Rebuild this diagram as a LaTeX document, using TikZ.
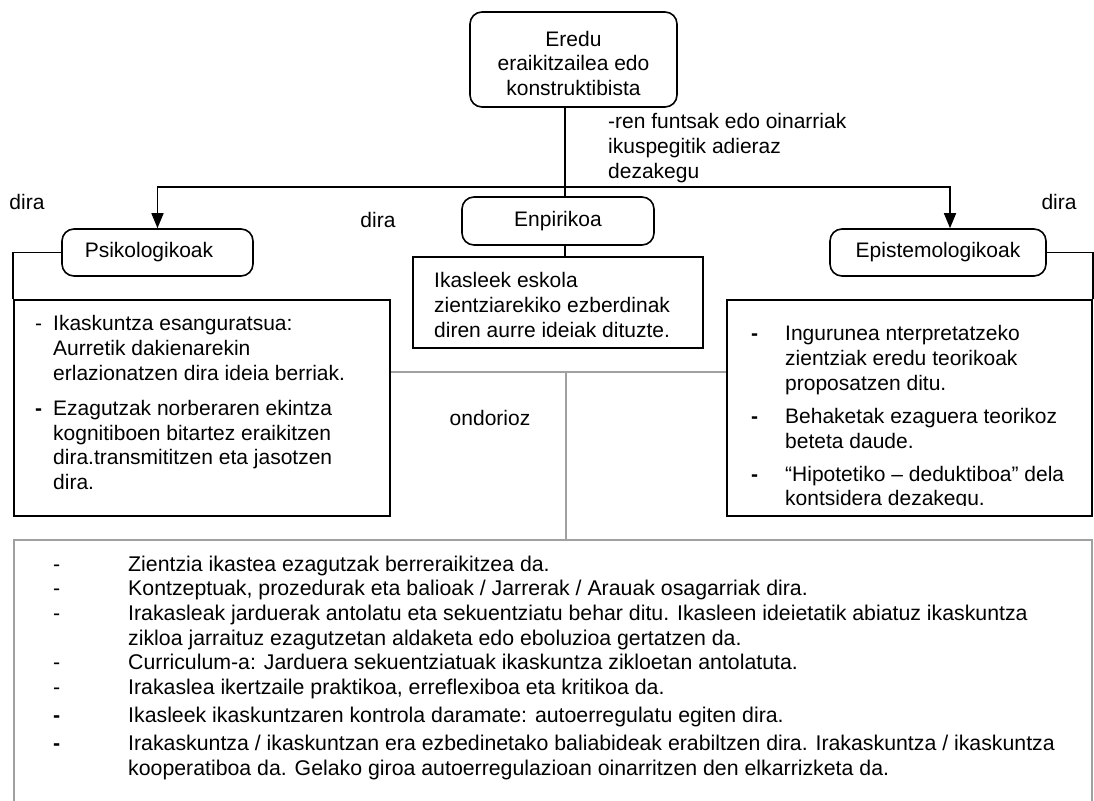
\documentclass[tikz,border=0pt]{standalone}
\usepackage{fontspec}
\setmainfont{Liberation Sans}
\usetikzlibrary{arrows.meta}
\definecolor{lgray}{RGB}{160,160,160}
\newcommand{\mybdash}{{\bfseries -}}
\newcommand{\mydashcol}[2]{\makebox[#1][l]{#2}}
\begin{document}
\begin{tikzpicture}[x=1pt,y=-1pt,
  font=\fontsize{21}{24.7}\selectfont,
  roundbox/.style={draw, line width=1.6pt, rounded corners=12pt, inner sep=0pt, align=center},
  sqbox/.style={draw, line width=1.6pt, inner sep=0pt},
  graybox/.style={draw=lgray, line width=1.6pt, inner sep=0pt},
  conn/.style={line width=1.6pt},
  grayconn/.style={draw=lgray, line width=1.6pt},
  tip/.style={-{Triangle[width=12pt,length=15pt]}},
  txt/.style={inner sep=0pt, align=left, anchor=north west},
  lbl/.style={inner sep=0pt}]
\clip (0,0) rectangle (1094,800);
\fill[white] (0,0) rectangle (1094,800);

% boxes
\node[roundbox, minimum width=207pt, minimum height=95pt] (ered) at (573.5,59.5)
  {\rule{0pt}{23pt}Eredu\\eraikitzailea edo\\konstruktibista};
\node[roundbox, minimum width=191pt, minimum height=47pt] (psi) at (157.5,252.5) {Psikologikoak\hspace*{17pt}};
\node[roundbox, minimum width=192pt, minimum height=48pt] (enp) at (558,221) {Enpirikoa};
\node[roundbox, minimum width=216pt, minimum height=47pt] (epi) at (938,252.5) {Epistemologikoak};

\node[sqbox, minimum width=376pt, minimum height=216pt] (lbox) at (202,408) {};
\node[sqbox, minimum width=290pt, minimum height=91pt] (enpbox) at (558,302.5) {};
\node[sqbox, minimum width=365pt, minimum height=216pt] (rtbox) at (909.5,408) {};
\node[graybox, minimum width=1078pt, minimum height=290pt] (btbox) at (553,685) {};

% connectors
\coordinate (j) at (565,187);
\draw[conn] (ered.south -| j) -- (enp.north -| j);
\draw[conn, tip] (j) -| (psi.north);
\draw[conn, tip] (j) -| ([xshift=12pt]epi.north);
\draw[conn] (enp.south -| j) -- (enpbox.north -| j);
\draw[conn] (psi.west) -| (lbox.north west);
\draw[conn] (epi.east) -| (rtbox.north east);

\coordinate (g) at (566,372);
\draw[grayconn] (g -| lbox.east) -- (g -| rtbox.west);
\draw[grayconn] (g) -- (g |- btbox.north);

% labels
\node[txt] (funts) at (608,113.5) {-ren funtsak edo oinarriak\\ikuspegitik adieraz\\dezakegu};
\node[lbl] (dira1) at (27,202) {dira};
\node[lbl] (dira2) at (378,219.5) {dira};
\node[lbl] (dira3) at (1059,202) {dira};
\node[lbl] (ondo) at (490,418) {ondorioz};

% texts
\node[txt] (enptext) at (434,272.5) {Ikasleek eskola\\zientziarekiko ezberdinak\\diren aurre ideiak dituzte.};

\node[txt] (ltext) at (35,315.5) {%
\mydashcol{18pt}{-}Ikaskuntza esanguratsua:\\
\hspace*{18pt}Aurretik dakienarekin\\
\hspace*{18pt}erlazionatzen dira ideia berriak.\\[10.4pt]
\mydashcol{18pt}{\mybdash}Ezagutzak norberaren ekintza\\
\hspace*{18pt}kognitiboen bitartez eraikitzen\\
\hspace*{18pt}dira.transmititzen eta jasotzen\\
\hspace*{18pt}dira.};

\begin{scope}
\clip (727,300) rectangle (1092,505);
\node[txt] (rtext) at (751,325.5) {%
\mydashcol{34pt}{\mybdash}Ingurunea nterpretatzeko\\
\hspace*{34pt}zientziak eredu teorikoak\\
\hspace*{34pt}proposatzen ditu.\\[8.4pt]
\mydashcol{34pt}{\mybdash}Behaketak ezaguera teorikoz\\
\hspace*{34pt}beteta daude.\\[8.4pt]
\mydashcol{34pt}{\mybdash}“Hipotetiko – deduktiboa” dela\\
\hspace*{34pt}kontsidera dezakegu.};
\end{scope}

\node[txt, font=\fontsize{21.3}{24.7}\selectfont] (btext) at (53,555.5) {%
\mydashcol{75pt}{-}Zientzia ikastea ezagutzak berreraikitzea da.\\
\mydashcol{75pt}{-}Kontzeptuak, prozedurak eta balioak / Jarrerak / Arauak osagarriak dira.\\
\mydashcol{75pt}{-}Irakasleak jarduerak antolatu eta sekuentziatu behar ditu. Ikasleen ideietatik abiatuz ikaskuntza\\
\hspace*{75pt}zikloa jarraituz ezagutzetan aldaketa edo eboluzioa gertatzen da.\\
\mydashcol{75pt}{-}Curriculum-a: Jarduera sekuentziatuak ikaskuntza zikloetan antolatuta.\\
\mydashcol{75pt}{-}Irakaslea ikertzaile praktikoa, erreflexiboa eta kritikoa da.\\[3.3pt]
\mydashcol{75pt}{\mybdash}Ikasleek ikaskuntzaren kontrola daramate: autoerregulatu egiten dira.\\[3.3pt]
\mydashcol{75pt}{\mybdash}Irakaskuntza / ikaskuntzan era ezbedinetako baliabideak erabiltzen dira. Irakaskuntza / ikaskuntza\\
\hspace*{75pt}kooperatiboa da. Gelako giroa autoerregulazioan oinarritzen den elkarrizketa da.};
\end{tikzpicture}
\end{document}
